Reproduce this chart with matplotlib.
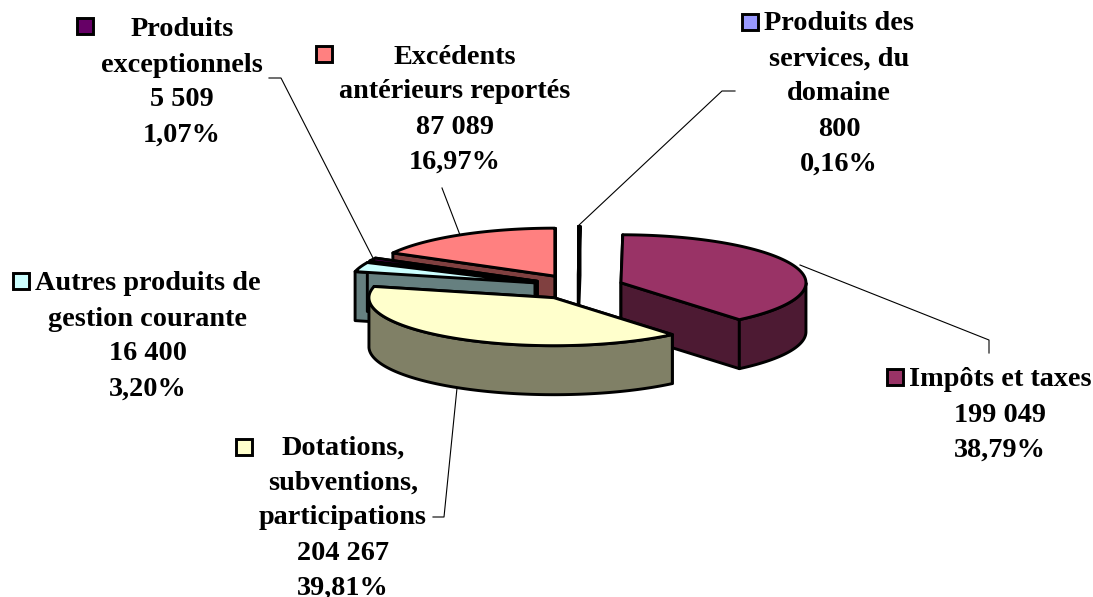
import numpy as np
import matplotlib
matplotlib.use("Agg")
import matplotlib.pyplot as plt
from matplotlib.patches import Polygon, Rectangle

# ---- data (clockwise from 12 o'clock) ----
categories = ["Produits des services, du domaine", "Impôts et taxes",
              "Dotations, subventions, participations",
              "Autres produits de gestion courante",
              "Produits exceptionnels", "Excédents antérieurs reportés"]
values = [800, 199049, 204267, 16400, 5509, 87089]
value_labels = ["800", "199 049", "204 267", "16 400", "5 509", "87 089"]
percent_labels = ["0,16%", "38,79%", "39,81%", "3,20%", "1,07%", "16,97%"]
label_lines = [["Produits des", "services, du", "domaine"],
               ["Impôts et taxes"],
               ["Dotations,", "subventions,", "participations"],
               ["Autres produits de", "gestion courante"],
               ["Produits", "exceptionnels"],
               ["Excédents", "antérieurs reportés"]]
top_colors = ["#9999FF", "#993366", "#FFFFCC", "#CCFFFF", "#660066", "#FF8080"]
side_colors = ["#4D4D80", "#4D1A33", "#808066", "#668080", "#330033", "#804040"]

# ---- layout ----
CX, CY = 578, 287        # pie centre (px)
RX, RY = 185, 48         # ellipse radii
EX, EY = 45.6, 12.6      # explosion offset
DEPTH = 49
LW = 2.1
FS = 20.3
LINE = 35
label_pos = [(839, 21), (1000, 377), (343, 445), (148, 281), (182, 27), (455, 54)]
key_pos = [(750, 22), (895, 377), (244, 447), (21, 281), (85, 26), (324, 54)]
leaders = [[(735, 91), (722, 91), (578, 226)],
           [(800, 265), (989, 340), (989, 353)],
           [(433, 517), (444, 517), (457, 388)],
           [],
           [(269, 78), (281, 78), (373, 258)],
           [(442, 188), (460, 235)]]
draw_order = [5, 4, 3, 0, 1, 2]

plt.rcParams["font.family"] = ["Liberation Serif", "DejaVu Serif"]
fig = plt.figure(figsize=(10.93, 5.97), dpi=100)
ax = fig.add_axes([0, 0, 1, 1])
ax.set_xlim(0, 1093)
ax.set_ylim(597, 0)
ax.axis("off")

vals = np.array(values, float)
edges = np.concatenate([[0], np.cumsum(vals)]) / vals.sum() * 2 * np.pi


def poly(pts, fc, z):
    ax.add_patch(Polygon(pts, closed=True, fc=fc, ec="black", lw=LW,
                         joinstyle="round", zorder=z))


z = 2
for i in draw_order:
    a0, a1 = edges[i], edges[i + 1]
    mid = (a0 + a1) / 2
    ax_, ay_ = CX + EX * np.sin(mid), CY - EY * np.cos(mid)
    th = np.linspace(a0, a1, 160)
    xs = ax_ + RX * np.sin(th)
    ys = ay_ - RY * np.cos(th)
    # radial cut faces
    for k in (0, -1):
        poly([(ax_, ay_), (xs[k], ys[k]), (xs[k], ys[k] + DEPTH),
              (ax_, ay_ + DEPTH)], side_colors[i], z)
    z += 1
    # outer wall: only the part facing the viewer
    mask = (th >= np.pi / 2) & (th <= 3 * np.pi / 2)
    if mask.any():
        wx, wy = xs[mask], ys[mask]
        pts = list(zip(wx, wy)) + list(zip(wx[::-1], wy[::-1] + DEPTH))
        poly(pts, side_colors[i], z)
    z += 1
    # top face
    poly([(ax_, ay_)] + list(zip(xs, ys)), top_colors[i], z)
    z += 1

for seg in leaders:
    if seg:
        ax.plot(*zip(*seg), color="black", lw=0.8, zorder=50)

for i in range(len(categories)):
    lines = label_lines[i] + [value_labels[i], percent_labels[i]]
    x, y = label_pos[i]
    for n, t in enumerate(lines):
        ax.text(x, y + n * LINE, t, ha="center", va="center_baseline", fontsize=FS,
                fontweight="bold", color="black", zorder=60)
    kx, ky = key_pos[i]
    ax.add_patch(Rectangle((kx - 8, ky - 8), 16, 16, fc=top_colors[i], ec="black",
                           lw=LW, zorder=60))

fig.savefig("out.png", dpi=100, facecolor="white")
